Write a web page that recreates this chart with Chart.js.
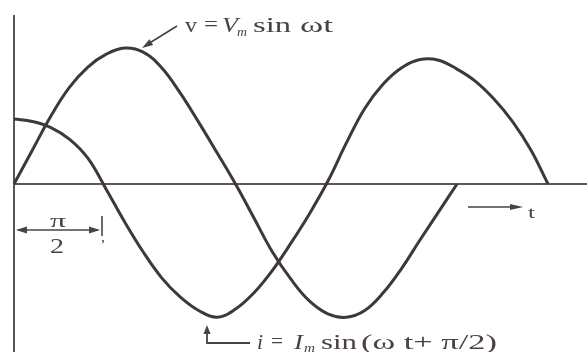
<!DOCTYPE html>
<html>
<head>
<meta charset="utf-8">
<script src="https://cdn.jsdelivr.net/npm/chart.js@4.4.0/dist/chart.umd.min.js"></script>
<style>
  html, body { margin: 0; padding: 0; background: #ffffff; }
  #c { display: block; }
</style>
</head>
<body>
<canvas id="c" width="587" height="352"></canvas>
<script>
// ωt in degrees, values normalised to Vm = 1
const vPhase = [0, 15, 30, 45, 60, 75, 90, 105, 120, 135, 150, 165, 180, 195, 210, 225, 240, 255, 270, 285, 300, 315, 330, 345, 360];
const vValues = [0, 0.25, 0.50, 0.71, 0.86, 0.955, 1.0, 0.97, 0.855, 0.67, 0.455, 0.23, 0, -0.25, -0.50, -0.70, -0.86, -0.955, -0.98, -0.93, -0.80, -0.62, -0.41, -0.205, 0];

const iPhase = [0, 15, 30, 45, 60, 75, 90, 105, 120, 135, 150, 165, 180, 195, 210, 225, 240, 255, 270, 285, 300, 315, 330, 345, 360, 375, 390, 405, 420, 433.9];
const iValues = [0.478, 0.46, 0.415, 0.33, 0.19, -0.04, -0.28, -0.50, -0.69, -0.83, -0.93, -0.98, -0.92, -0.80, -0.635, -0.435, -0.22, 0.02, 0.30, 0.555, 0.735, 0.855, 0.915, 0.91, 0.845, 0.755, 0.625, 0.46, 0.25, 0];

const vLabel = ['v', '=', 'V', 'm', 'sin', 'ωt'];
const iLabel = ['i', '=', 'I', 'm', 'sin', '(ω t+ π/2)'];
const shiftLabel = ['π', '2'];
const timeLabel = 't';

const toPts = (xs, ys) => xs.map((x, k) => ({ x: x, y: ys[k] }));

const INK = '#403838';
const TXT = '#4a4242';

function fitText(ctx, str, x0, x1, base, font) {
  ctx.save();
  ctx.font = font;
  const w = ctx.measureText(str).width;
  const sx = (x1 - x0) / w;
  ctx.translate(x0, base);
  ctx.scale(sx, 1);
  ctx.fillText(str, 0, 0);
  ctx.restore();
}
function arrowHead(ctx, tx, ty, fx, fy, len, half) {
  const dx = tx - fx, dy = ty - fy;
  const d = Math.hypot(dx, dy);
  const ux = dx / d, uy = dy / d;
  const bx = tx - ux * len, by = ty - uy * len;
  ctx.beginPath();
  ctx.moveTo(tx, ty);
  ctx.lineTo(bx - uy * half, by + ux * half);
  ctx.lineTo(bx + uy * half, by - ux * half);
  ctx.closePath();
  ctx.fill();
}

const axesPlugin = {
  id: 'axesLines',
  beforeDatasetsDraw(chart) {
    const { ctx, chartArea, scales } = chart;
    const x0 = scales.x.getPixelForValue(0);
    const y0 = scales.y.getPixelForValue(0);
    ctx.save();
    ctx.strokeStyle = '#5e5555';
    ctx.lineWidth = 2;
    ctx.beginPath();
    ctx.moveTo(x0, chartArea.top);
    ctx.lineTo(x0, chartArea.bottom);
    ctx.moveTo(chartArea.left, y0);
    ctx.lineTo(chartArea.right, y0);
    ctx.stroke();
    ctx.restore();
  }
};

const notesPlugin = {
  id: 'notes',
  afterDraw(chart) {
    const ctx = chart.ctx;
    ctx.save();
    ctx.fillStyle = TXT;
    ctx.strokeStyle = TXT;
    ctx.textBaseline = 'alphabetic';
    const serif = '"Liberation Serif", "DejaVu Serif", serif';

    // top label  v = Vm sin ωt
    fitText(ctx, vLabel[0], 185, 197, 32, '21px ' + serif);
    fitText(ctx, vLabel[1], 204, 218, 31, '21px ' + serif);
    fitText(ctx, vLabel[2], 222, 238, 32, 'italic 21px ' + serif);
    fitText(ctx, vLabel[3], 237, 247, 36, 'italic 12px ' + serif);
    fitText(ctx, vLabel[4], 253, 291, 32, '21px ' + serif);
    fitText(ctx, vLabel[5], 300, 333, 32, '21px ' + serif);
    // pointer to v curve
    ctx.lineWidth = 1.6;
    ctx.beginPath();
    ctx.moveTo(177, 26);
    ctx.lineTo(148, 44);
    ctx.stroke();
    arrowHead(ctx, 142, 48, 177, 26, 11, 3.5);

    // bottom label  i = Im sin (ω t + π/2)
    fitText(ctx, iLabel[0], 257, 263, 349, 'italic 21px ' + serif);
    fitText(ctx, iLabel[1], 271, 283, 348, '21px ' + serif);
    fitText(ctx, iLabel[2], 294, 303, 349, 'italic 21px ' + serif);
    fitText(ctx, iLabel[3], 304, 315, 352, 'italic 12px ' + serif);
    fitText(ctx, iLabel[4], 321, 357, 349, '21px ' + serif);
    fitText(ctx, iLabel[5], 361, 497, 349, '21px ' + serif);
    // pointer to i curve
    ctx.lineWidth = 1.8;
    ctx.beginPath();
    ctx.moveTo(207, 332);
    ctx.lineTo(207, 343);
    ctx.lineTo(250, 343);
    ctx.stroke();
    arrowHead(ctx, 207, 325, 207, 340, 9, 3.5);

    // π/2 dimension
    ctx.lineWidth = 1.3;
    ctx.beginPath();
    ctx.moveTo(18, 230);
    ctx.lineTo(98, 230);
    ctx.stroke();
    arrowHead(ctx, 16, 230, 40, 230, 11, 3.5);
    arrowHead(ctx, 100, 230, 70, 230, 11, 3.5);
    ctx.lineWidth = 1.6;
    ctx.beginPath();
    ctx.moveTo(102, 216);
    ctx.lineTo(102, 236);
    ctx.stroke();
    fitText(ctx, shiftLabel[0], 50, 66, 227, '19px ' + serif);
    fitText(ctx, shiftLabel[1], 50, 64, 253, '21px ' + serif);
    fitText(ctx, ',', 101, 105, 242, '14px ' + serif);

    // time arrow
    ctx.lineWidth = 1.6;
    ctx.beginPath();
    ctx.moveTo(468, 207);
    ctx.lineTo(512, 207);
    ctx.stroke();
    arrowHead(ctx, 523, 207, 468, 207, 13, 3);
    fitText(ctx, timeLabel, 528, 535, 218, '17px ' + serif);

    ctx.restore();
  }
};

new Chart(document.getElementById('c'), {
  type: 'scatter',
  data: {
    datasets: [
      {
        label: 'v = Vm sin ωt',
        data: toPts(vPhase, vValues),
        showLine: true,
        borderColor: INK,
        borderWidth: 3,
        pointRadius: 0,
        tension: 0.4,
        clip: false
      },
      {
        label: 'i = Im sin (ωt + π/2)',
        data: toPts(iPhase, iValues),
        showLine: true,
        borderColor: INK,
        borderWidth: 3,
        pointRadius: 0,
        tension: 0.4,
        clip: false
      }
    ]
  },
  options: {
    responsive: false,
    devicePixelRatio: 1,
    animation: false,
    layout: { padding: { top: 15, left: 14, right: 0, bottom: 0 } },
    plugins: { legend: { display: false }, tooltip: { enabled: false } },
    scales: {
      x: { type: 'linear', display: false, min: 0, max: 465.6 },
      y: { type: 'linear', display: false, min: -1.2353, max: 1.2426 }
    }
  },
  plugins: [axesPlugin, notesPlugin]
});
</script>
</body>
</html>
